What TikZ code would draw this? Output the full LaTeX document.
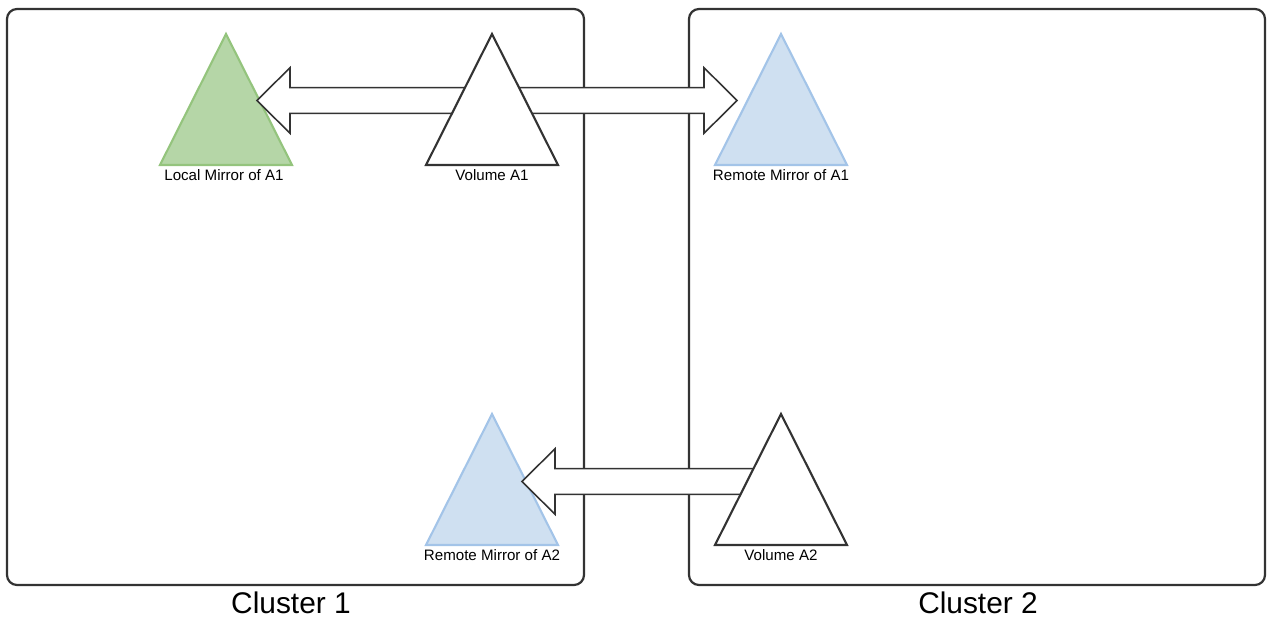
\documentclass[tikz,border=0pt]{standalone}
\usepackage{fontspec}
\setmainfont{Liberation Sans}
\definecolor{edge}{HTML}{333333}
\definecolor{greenfill}{HTML}{B5D6A7}
\definecolor{greenline}{HTML}{94C47D}
\definecolor{bluefill}{HTML}{CFE0F1}
\definecolor{blueline}{HTML}{A3C4E8}
\begin{document}
\begin{tikzpicture}[x=0.02cm,y=-0.02cm,
  cluster/.style={draw=edge,line width=1.25pt,rounded corners=0.2cm},
  tri/.style={line width=1.2pt,line join=miter},
  vol/.style={tri,draw=edge,fill=white},
  rmir/.style={tri,draw=blueline,fill=bluefill},
  lmir/.style={tri,draw=greenline,fill=greenfill},
  lbl/.style={font=\fontsize{8.6}{10}\selectfont,inner sep=0pt},
  clbl/.style={font=\fontsize{17}{20}\selectfont,inner sep=0pt},
  blockarrow/.style={draw=edge,fill=white,line width=0.9pt,line join=miter},
  pics/tria/.style={code={\path[#1] (-66,131) -- (0,0) -- (66,131) -- cycle;}}]
\useasboundingbox (0,0) rectangle (1267,618);
% clusters
\draw[cluster] (7,9) rectangle (584,585);
\draw[cluster] (689,9) rectangle (1265,585);
\node[clbl] (c1) at (291,603) {Cluster 1};
\node[clbl] (c2) at (978,603) {Cluster 2};
% apex coordinates
\coordinate (lm) at (226,34);
\coordinate (va1) at (492,34);
\coordinate (rm1) at (781,34);
\coordinate (rm2) at (492,414);
\coordinate (va2) at (781,414);
% mirrors
\pic at (lm) {tria=lmir};
\pic at (rm1) {tria=rmir};
\pic at (rm2) {tria=rmir};
% block arrows
\coordinate (t1) at (257,100.5);
\coordinate (t2) at (737,100.5);
\coordinate (t3) at (522,481.5);
\draw[blockarrow] (t1) -- ++(33,-32.8) -- ++(0,20) -- ++(202,0) -- ++(0,25.6) -- ++(-202,0) -- ++(0,20) -- cycle;
\draw[blockarrow] (t2) -- ++(-33,-32.8) -- ++(0,20) -- ++(-212,0) -- ++(0,25.6) -- ++(212,0) -- ++(0,20) -- cycle;
\draw[blockarrow] (t3) -- ++(33,-32.8) -- ++(0,20) -- ++(226,0) -- ++(0,25.6) -- ++(-226,0) -- ++(0,20) -- cycle;
% volumes
\pic at (va1) {tria=vol};
\pic at (va2) {tria=vol};
% labels
\node[lbl] (llm) at (224,175) {Local Mirror of A1};
\node[lbl] (lva1) at (492,175) {Volume A1};
\node[lbl] (lrm1) at (781,175) {Remote Mirror of A1};
\node[lbl] (lrm2) at (492,555) {Remote Mirror of A2};
\node[lbl] (lva2) at (781,555) {Volume A2};
\end{tikzpicture}
\end{document}
